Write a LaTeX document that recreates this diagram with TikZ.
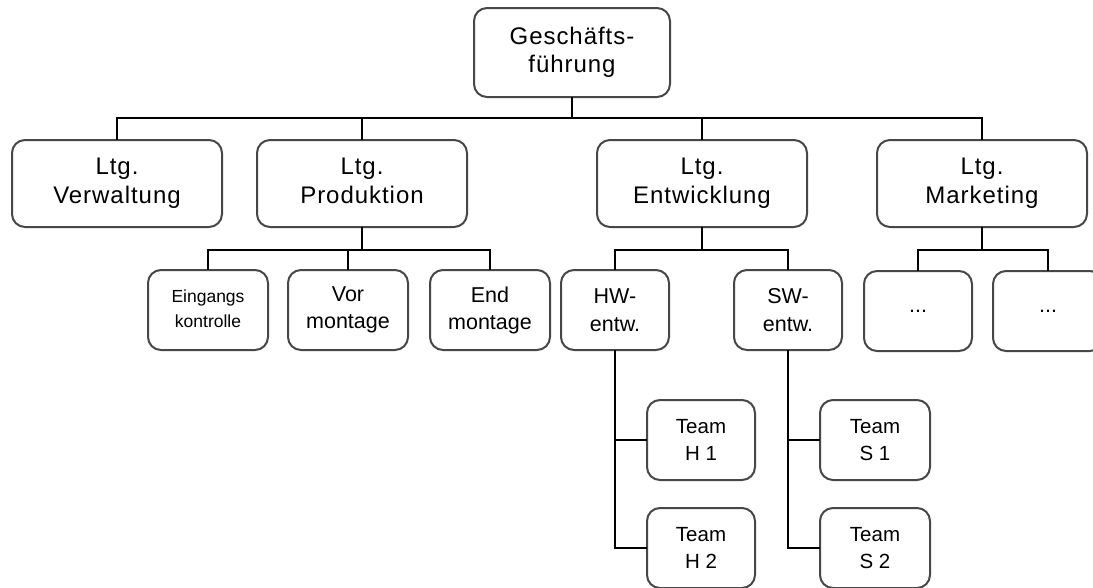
\documentclass[tikz,border=0pt]{standalone}
\usepackage{fontspec}
\setmainfont{Liberation Sans}
\newfontfamily\bigfont[LetterSpace=4]{Liberation Sans}
\begin{document}
\begin{tikzpicture}[x=1pt,y=-1pt,
  box/.style={draw=black!72, line width=2pt, rounded corners=13pt, fill=white,
    align=center, inner sep=0pt, outer sep=0pt},
  topbox/.style={box, minimum width=196pt, minimum height=89pt,
    font=\bigfont\fontsize{24}{28}\selectfont},
  lvltwo/.style={box, minimum width=210pt, minimum height=87pt,
    font=\bigfont\fontsize{24}{29}\selectfont},
  lvlthree/.style={box, minimum width=120pt, minimum height=80pt,
    font=\fontsize{21.5}{27}\selectfont},
  smalltext/.style={font=\fontsize{17.5}{25}\selectfont},
  subbox/.style={box, minimum width=108pt, minimum height=80pt,
    font=\fontsize{21.5}{28}\selectfont},
  teambox/.style={box, minimum width=108pt, minimum height=80pt,
    font=\fontsize{20.5}{27}\selectfont},
  conn/.style={draw=black, line width=2pt}
]
\useasboundingbox (0,0) rectangle (1093,587);
\clip (0,0) rectangle (1093,587);

% nodes
\node[topbox] (gf) at (572,52.5) {Geschäfts-\\führung};

\node[lvltwo] (verw) at (117,183.5) {Ltg.\\Verwaltung};
\node[lvltwo] (prod) at (362,183.5) {Ltg.\\Produktion\vphantom{g}};
\node[lvltwo] (entw) at (702,183.5) {Ltg.\\Entwicklung};
\node[lvltwo] (mark) at (982,183.5) {Ltg.\\Marketing};

\node[lvlthree,smalltext] (eing) at (208,310) {Eingangs\\kontrolle\vphantom{g}};
\node[lvlthree] (vor) at (348,310) {Vor\\montage};
\node[lvlthree] (endm) at (490,310) {End\\montage};

\node[subbox] (hw) at (615,310) {HW-\\entw.};
\node[subbox] (sw) at (788,310) {SW-\\entw.};
\node[subbox] (da) at (918,311) {...};
\node[subbox, minimum width=110pt] (db) at (1048,311) {...};

\node[teambox] (h1) at (701,440) {Team\\H 1};
\node[teambox] (h2) at (701,548) {Team\\H 2};
\node[teambox, minimum width=110pt] (s1) at (875,440) {Team\\S 1};
\node[teambox, minimum width=110pt] (s2) at (875,548) {Team\\S 2};

% bus coordinates
\coordinate (busa) at (0,118);
\coordinate (busb) at (0,250);

% level 1 -> 2
\draw[conn] (gf.south) -- (gf.south |- busa);
\draw[conn] (verw.north) -- (verw.north |- busa) -- (mark.north |- busa) -- (mark.north);
\draw[conn] (prod.north) -- (prod.north |- busa);
\draw[conn] (entw.north) -- (entw.north |- busa);

% Produktion
\draw[conn] (prod.south) -- (prod.south |- busb);
\draw[conn] (eing.north) -- (eing.north |- busb) -- (endm.north |- busb) -- (endm.north);
\draw[conn] (vor.north) -- (vor.north |- busb);

% Entwicklung
\draw[conn] (entw.south) -- (entw.south |- busb);
\draw[conn] (hw.north) -- (hw.north |- busb) -- (sw.north |- busb) -- (sw.north);

% Marketing
\draw[conn] (mark.south) -- (mark.south |- busb);
\draw[conn] (da.north) -- (da.north |- busb) -- (db.north |- busb) -- (db.north);

% Teams
\draw[conn] (hw.south) |- (h2.west);
\draw[conn] (hw.south |- h1.west) -- (h1.west);
\draw[conn] (sw.south) |- (s2.west);
\draw[conn] (sw.south |- s1.west) -- (s1.west);
\end{tikzpicture}
\end{document}
